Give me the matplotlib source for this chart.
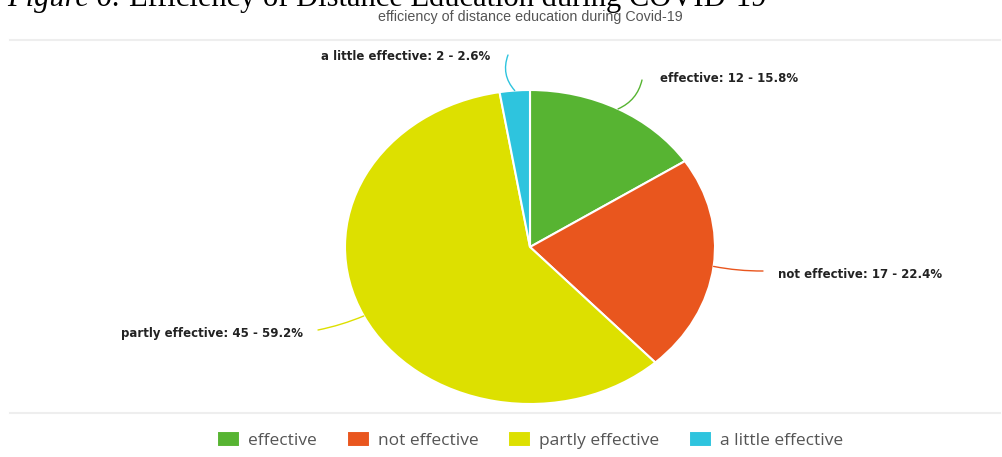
import numpy as np
import matplotlib.pyplot as plt

categories = ['effective', 'not effective', 'partly effective', 'a little effective']
counts = [12, 17, 45, 2]
percents = [15.8, 22.4, 59.2, 2.6]
colors = ['#57b432', '#e9561e', '#dde000', '#2ec4de']

W, H = 1003, 457
fig = plt.figure(figsize=(W / 100, H / 100), dpi=100)

# caption cut off at the top (as in the source scan)
cap1 = fig.text(7 / W, 1 - 6 / H, 'Figure 6:', fontsize=22, family='Liberation Serif',
                style='italic', va='baseline', ha='left')
bb = cap1.get_window_extent(renderer=fig.canvas.get_renderer())
fig.text((bb.x1 + 7) / W, 1 - 6 / H, 'Efficiency of Distance Education during COVID-19',
         fontsize=22, family='Liberation Serif', va='baseline', ha='left')
fig.text(530 / W, 1 - 17 / H, 'efficiency of distance education during Covid-19',
         fontsize=10.3, color='#555555', ha='center', va='center',
         family='Liberation Sans')

# light separators
for yy in (40, 413):
    fig.add_artist(plt.Line2D([10 / W, 1000 / W], [1 - yy / H, 1 - yy / H],
                              color='#eeeeee', lw=1.5, transform=fig.transFigure))

# pie axes spans the (elliptical) pie bounding box
cx, cy, rx, ry = 530, 247, 185, 157
ax = fig.add_axes([(cx - rx) / W, 1 - (cy + ry) / H, 2 * rx / W, 2 * ry / H])
wedges, _ = ax.pie(counts, colors=colors, startangle=90, counterclock=False,
                   wedgeprops=dict(edgecolor='white', linewidth=1.5))
ax.set_aspect('auto')
ax.set_xlim(-1, 1)
ax.set_ylim(-1, 1)

# label text anchors (image pixels), leader end points, alignment
text_pos = [(660, 79, 'left'), (778, 274, 'left'), (303, 334, 'right'), (490, 57, 'right')]
lead_end = [(642, 80), (763, 271), (318, 330), (508, 55)]
rads = [-0.25, -0.05, 0.05, 0.3]

for w, cat, n, p, c, (tx, ty, ha), (lx, ly), r in zip(wedges, categories, counts, percents,
                                                     colors, text_pos, lead_end, rads):
    mid = np.deg2rad((w.theta1 + w.theta2) / 2)
    ax.annotate('', xy=(np.cos(mid), np.sin(mid)), xycoords='data',
                xytext=(lx, H - ly), textcoords='figure pixels',
                arrowprops=dict(arrowstyle='-', color=c, lw=1,
                                connectionstyle=f'arc3,rad={r}', shrinkA=0, shrinkB=0),
                annotation_clip=False)
    fig.text(tx / W, 1 - ty / H, f'{cat}: {n} - {p}%', fontsize=8.5, fontweight='bold',
             color='#222222', ha=ha, va='center', family='DejaVu Sans')

leg = fig.legend(wedges, categories, loc='center', bbox_to_anchor=(530 / W, 1 - 440 / H),
                 ncol=4, frameon=False, handlelength=1.32, handleheight=1.0,
                 columnspacing=1.72, handletextpad=0.46,
                 prop=dict(family='Open Sans', size=12.5))
for t in leg.get_texts():
    t.set_color('#555555')

fig.savefig('out.png', dpi=100)
